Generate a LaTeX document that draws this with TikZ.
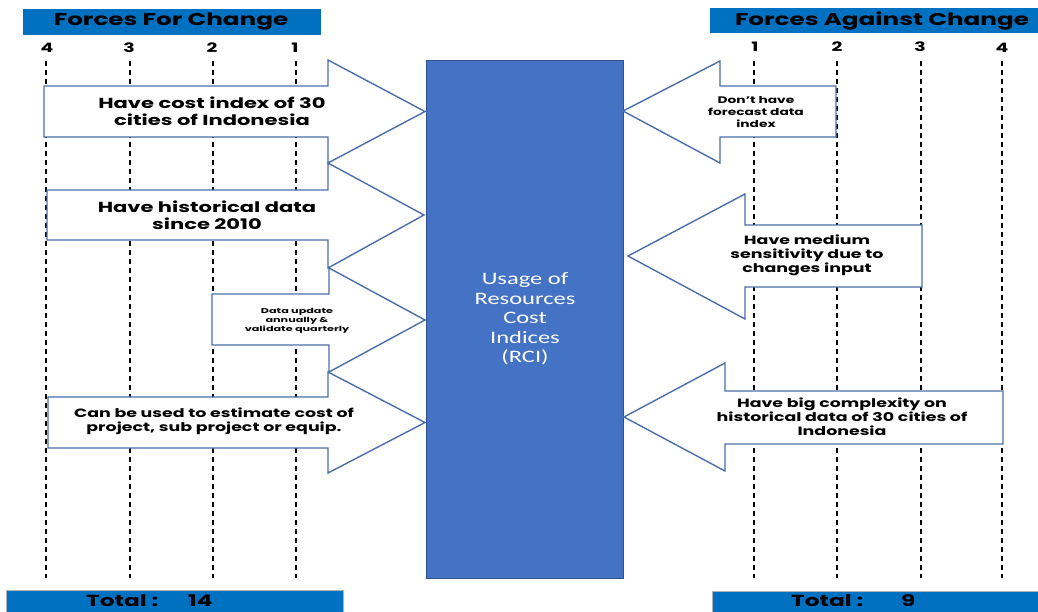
\documentclass[tikz,border=0pt]{standalone}
\usepackage{fontspec}
\setmainfont{Poppins}[FakeStretch=1.45]
\newfontfamily\bodyfont{Carlito}[FakeStretch=1.40]
\newfontfamily\tinyfont{Poppins}[FakeStretch=1.6]
\definecolor{titleblue}{HTML}{0070C0}
\definecolor{boxblue}{HTML}{4472C4}
\definecolor{boxedge}{HTML}{2F528F}
\definecolor{arrowedge}{HTML}{4A6FA8}
\tikzset{
  titlebox/.style={fill=titleblue, draw=none},
  dashline/.style={black, line width=1.8pt, dash pattern=on 5pt off 4pt},
  bigarrow/.style={fill=white, draw=arrowedge, line width=1.4pt, line join=miter},
  numlabel/.style={font=\fontsize{13}{13}\selectfont\bfseries, inner sep=0pt},
  arrowtext/.style={align=center, inner sep=0pt, font=\bfseries},
}
\begin{document}
\begin{tikzpicture}[x=1pt,y=-1pt]
\useasboundingbox (0,0) rectangle (1038,611);
\fill[white] (0,0) rectangle (1038,611);
% titles
\fill[titlebox] (23,9) rectangle (321,35);
\node[inner sep=0pt, font=\fontsize{17}{17}\selectfont\bfseries] (tl) at (171,22) {Forces For Change};
\fill[titlebox] (710,8) rectangle (1038,33);
\node[inner sep=0pt, font=\fontsize{17}{17}\selectfont\bfseries] (tr) at (882,21) {Forces Against Change};
% number labels
\node[numlabel] (l4) at (47,48) {4};
\node[numlabel] (l3) at (129,48) {3};
\node[numlabel] (l2) at (212,48) {2};
\node[numlabel] (l1) at (295,48) {1};
\node[numlabel] (r1) at (755,47) {1};
\node[numlabel] (r2) at (837,47) {2};
\node[numlabel] (r3) at (920,47) {3};
\node[numlabel] (r4) at (1002,48) {4};
% dashed lines
\foreach \x in {46,130,213,296,754,837,921,1002}{
  \draw[dashline] (\x,61) -- (\x,578);
}
% centre box
\draw[fill=boxblue, draw=boxedge, line width=1pt] (426,60) rectangle (623,578);
\node[align=center, text=white, inner sep=0pt, font=\bodyfont\fontsize{17.5}{19.5}\selectfont] (rci) at (525,319) {Usage of\\Resources\\Cost\\Indices\\(RCI)};
% left arrows
\draw[bigarrow] (44,86) -- (328,86) -- (328,60) -- (425,111.5) -- (328,163) -- (328,137) -- (44,137) -- cycle;
\node[arrowtext, font=\fontsize{14.5}{17.5}\selectfont\bfseries] (a1) at (212,111) {Have cost index of 30\\cities of Indonesia};
\draw[bigarrow] (47,190) -- (328,190) -- (328,163) -- (424,215) -- (328,268) -- (328,240) -- (47,240) -- cycle;
\node[arrowtext, font=\fontsize{14.5}{16.5}\selectfont\bfseries] (a2) at (207,215) {Have historical data\\since 2010};
\draw[bigarrow] (212,294) -- (329,294) -- (329,268) -- (425,320) -- (329,372) -- (329,345) -- (212,345) -- cycle;
\node[arrowtext, font=\tinyfont\fontsize{7}{9.2}\selectfont\bfseries] (a3) at (297,321) {Data update\\annually \&\\validate quarterly};
\draw[bigarrow] (48,397) -- (328,397) -- (328,372) -- (425,422.5) -- (328,473) -- (328,448) -- (48,448) -- cycle;
\node[arrowtext, font=\fontsize{12}{14}\selectfont\bfseries] (a4) at (214,421) {Can be used to estimate cost of\\project, sub project or equip.};
% right arrows
\draw[bigarrow] (836,86) -- (720,86) -- (720,61) -- (623,111) -- (720,163) -- (720,137) -- (836,137) -- cycle;
\node[arrowtext, font=\fontsize{9.5}{12}\selectfont\bfseries] (b1) at (756,112) {Don't have\\forecast data\\index};
\draw[bigarrow] (922,225) -- (745,225) -- (745,194) -- (628,256) -- (745,319) -- (745,287) -- (922,287) -- cycle;
\node[arrowtext, font=\fontsize{12}{14}\selectfont\bfseries] (b2) at (807,255) {Have medium\\sensitivity due to\\changes input};
\draw[bigarrow] (1003,391) -- (725,391) -- (725,363) -- (624,417) -- (725,471) -- (725,444) -- (1003,444) -- cycle;
\node[arrowtext, font=\fontsize{12}{14}\selectfont\bfseries] (b3) at (842,417) {Have big complexity on\\historical data of 30 cities of\\Indonesia};
% totals
\draw[fill=titleblue, draw=gray!60, line width=1pt] (6,590) rectangle (343,620);
\node[inner sep=0pt, font=\fontsize{16}{16}\selectfont\bfseries, anchor=base west] (tot1) at (86,606) {Total :\hspace{30pt}14};
\draw[fill=titleblue, draw=gray!60, line width=1pt] (712,591) rectangle (1045,620);
\node[inner sep=0pt, font=\fontsize{16}{16}\selectfont\bfseries, anchor=base west] (tot2) at (791,606) {Total :\hspace{38pt}9};
\end{tikzpicture}
\end{document}
